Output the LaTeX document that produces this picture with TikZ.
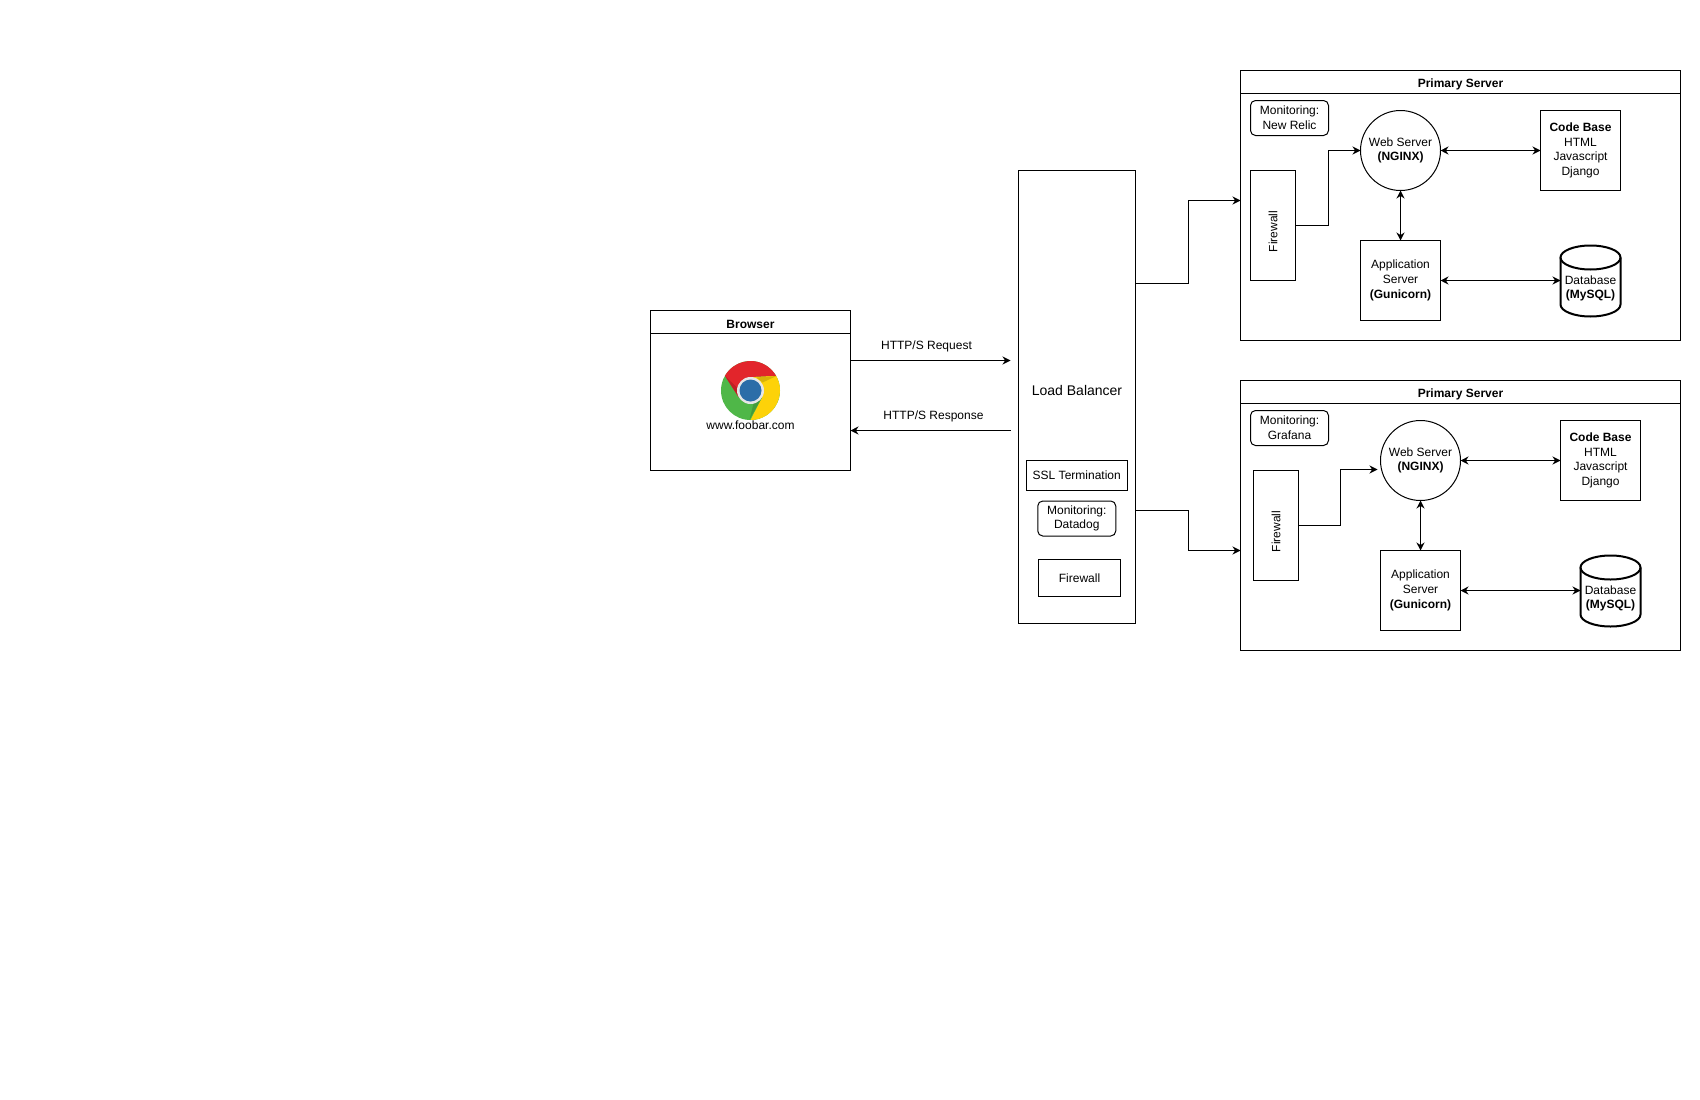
\documentclass[tikz,border=0pt]{standalone}
\usepackage{fontspec}
\setmainfont{Liberation Sans}
\usepackage{xcolor}
\usetikzlibrary{arrows.meta,positioning,shapes.geometric}
\definecolor{chromered}{HTML}{E2252B}
\definecolor{chromeyellow}{HTML}{FDD209}
\definecolor{chromegreen}{HTML}{4FB748}
\definecolor{chromeblue}{HTML}{2B6DA8}
\definecolor{chromering}{HTML}{E6E6E6}
\tikzset{
  txt/.style={font=\fontsize{12}{14.7}\selectfont,align=center,inner sep=0pt,outer sep=0pt},
  box/.style={txt,draw,line width=1pt},
  low/.style={execute at begin node={\rule{0pt}{13pt}}},
  tag/.style={box,low,rounded corners=5pt,minimum width=78pt,minimum height=35pt},
  arr/.style={line width=1pt,-{Stealth[length=8pt,width=8pt]}},
  dbl/.style={line width=1pt,{Stealth[length=8pt,width=8pt]}-{Stealth[length=8pt,width=8pt]}},
}
\begin{document}
\begin{tikzpicture}[x=1pt,y=-1pt]
\useasboundingbox (0,0) rectangle (1700,1100);
\begin{scope}[shift={(0.5,0.5)}]
% browser
\node[box,minimum width=200pt,minimum height=160pt] (browser) at (750,390) {};
\node[box,low,minimum width=200pt,minimum height=23pt,font=\fontsize{12}{14.7}\bfseries] (browsertitle) at (750,321.5) {Browser};
\begin{scope}[shift={(750,390)},x=1pt,y=1pt]
  \fill[chromegreen] (0,0) circle[radius=29.5];
  \fill[chromeyellow] (30:29.5) arc[start angle=30,end angle=-90,radius=29.5] -- (-30:13.5) -- (0,0) -- (90:13.5) -- cycle;
  \fill[chromered] (150:29.5) arc[start angle=150,end angle=30,radius=29.5] -- (90:13.5) -- (0,0) -- (210:13.5) -- cycle;
  \fill[chromeyellow!85!black] (26,14.5) -- (6,13) -- (12,8) -- cycle;
  \fill[chromered!85!black] (-25.5,14.5) -- (-12,-6.5) -- (-13.5,3) -- cycle;
  \fill[chromegreen!85!black] (-1,-29) -- (11.5,-7) -- (3,-13) -- cycle;
  \fill[chromering] (0,0) circle[radius=13.5];
  \fill[chromeblue] (0,0) circle[radius=11];
\end{scope}
\node[txt] (site) at (750,425) {www.foobar.com};
% load balancer
\node[box,minimum width=117.5pt,minimum height=453pt] (lb) at (1076.25,396.5) {};
\node[txt,font=\fontsize{14}{16.8}\selectfont] (lbtext) at (1076.5,390) {Load Balancer};
\node[box,minimum width=100.5pt,minimum height=30pt] (ssl) at (1076.25,475) {SSL Termination};
\node[tag] (lbmon) at (1076.25,518) {Monitoring:\\Datadog};
\node[box,minimum width=82.5pt,minimum height=37pt] (lbfw) at (1079,577.5) {Firewall};
% requests
\coordinate (reqend) at (1010,360);
\coordinate (respstart) at (1010,430);
\draw[arr] (browser.east |- reqend) -- (reqend);
\draw[arr] (respstart) -- (browser.east |- respstart);
\node[txt] (reqtext) at (926,346) {HTTP/S Request};
\node[txt] (resptext) at (933,416) {HTTP/S Response};
% servers
\foreach \s/\yo/\dx/\fx/\fy/\mon in {1/0/0/1272.5/225/New Relic,2/310/20/1275.5/215/Grafana}{
  \node[box,minimum width=440pt,minimum height=270pt] (srv\s) at (1460,205+\yo) {};
  \node[box,low,minimum width=440pt,minimum height=23pt,font=\fontsize{12}{14.7}\bfseries] (srvtitle\s) at (1460,81.5+\yo) {Primary Server};
  \node[tag] (mon\s) at (1289,117.5+\yo) {Monitoring:\\\mon};
  \node[box,minimum width=45pt,minimum height=110pt] (fw\s) at (\fx,\fy+\yo) {};
  \node[txt,rotate=90] (fwtext\s) at (\fx,\fy+\yo+6) {Firewall};
  \node[box,low,circle,minimum size=80pt] (web\s) at (1400+\dx,150+\yo) {Web Server\\\textbf{(NGINX)}};
  \node[box,low,minimum size=80pt] (code\s) at (1580+\dx,150+\yo) {\textbf{Code Base}\\HTML\\Javascript\\Django};
  \node[box,low,minimum size=80pt] (app\s) at (1400+\dx,280+\yo) {Application\\Server\\\textbf{(Gunicorn)}};
  \node[txt,minimum width=60pt,minimum height=70pt] (db\s) at (1590+\dx,280+\yo) {};
  \draw[line width=2pt] (db\s.west |- 0,257+\yo) -- (db\s.west |- 0,304+\yo) arc[start angle=180,end angle=0,x radius=30,y radius=12] -- (db\s.east |- 0,257+\yo);
  \draw[line width=2pt] (1590+\dx,257+\yo) ellipse[x radius=30,y radius=12];
  \node[txt] (dbtext\s) at (1590+\dx,288+\yo) {Database\\\textbf{(MySQL)}};
  \draw[dbl] (web\s) -- (code\s);
  \draw[dbl] (web\s) -- (app\s);
  \draw[dbl] (app\s.east) -- (db\s.west);
}
% links
\coordinate (lbout1) at (1135,283);
\coordinate (lbout2) at (1135,510);
\coordinate (srvin1) at (1240,200);
\coordinate (srvin2) at (1240,550);
\coordinate (webin2) at (1377,469);
\draw[arr] (lbout1) -- ++(53,0) |- (srvin1);
\draw[arr] (lbout2) -- ++(53,0) |- (srvin2);
\draw[arr] (fw1.east) -- ++(32.5,0) |- (web1.west);
\draw[arr] (fw2.east) -- ++(41.5,0) |- (webin2);
\end{scope}
\end{tikzpicture}
\end{document}
